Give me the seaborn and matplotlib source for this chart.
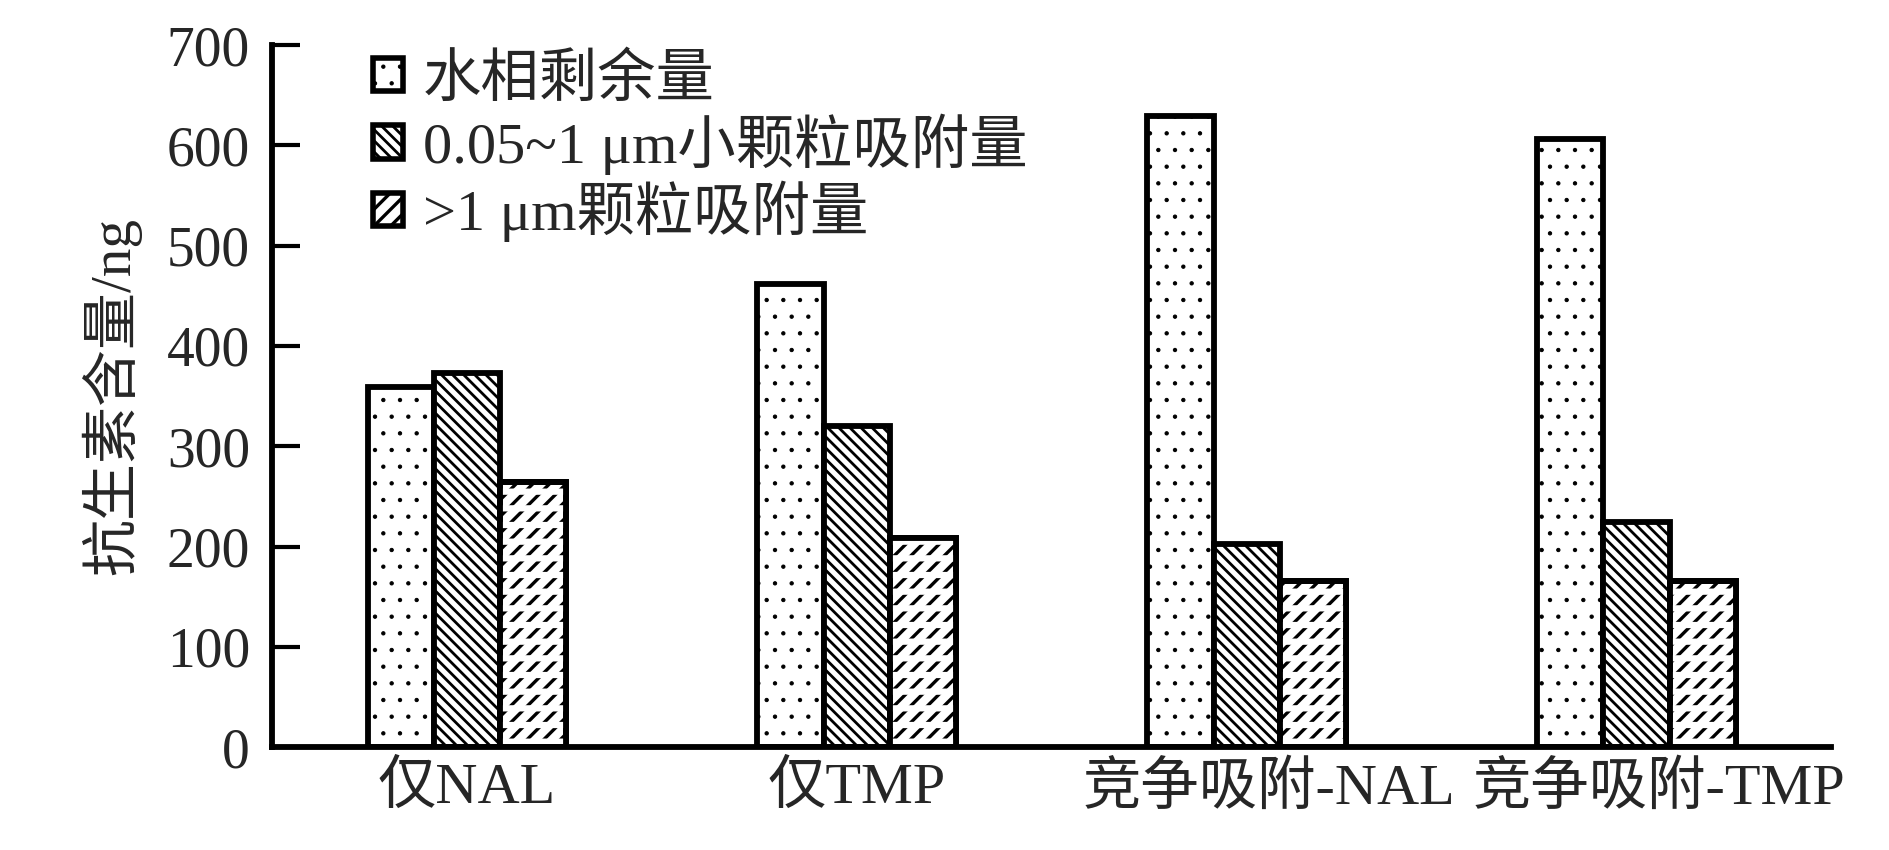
#!/usr/bin/env python3
import pandas as pd
import seaborn as sns
import matplotlib.pyplot as plt
import matplotlib.transforms as mtransforms
from matplotlib.patches import Rectangle

sns.set_theme(style="white")
plt.rcParams['font.family'] = ['Liberation Serif', 'Noto Sans CJK SC', 'DejaVu Sans']
plt.rcParams['hatch.linewidth'] = 1.5

categories = ["仅NAL", "仅TMP", "竞争吸附-NAL", "竞争吸附-TMP"]
series = ["水相剩余量", "0.05~1 μm小颗粒吸附量", ">1 μm颗粒吸附量"]
water_left = [359, 462, 629, 606]
small_part = [373, 320, 203, 224]
big_part = [264, 209, 166, 166]
yticks = [0, 100, 200, 300, 400, 500, 600, 700]

df = pd.DataFrame({
    "cat": categories * 3,
    "series": [series[0]] * 4 + [series[1]] * 4 + [series[2]] * 4,
    "value": water_left + small_part + big_part,
})

hatches = [".", "\\\\\\", "//"]
hatch_lw = [0.7, 2.0, 2.4]
EDGE = 4.2


def set_hlw(p, lw):
    try:
        p.set_hatch_linewidth(lw)
    except AttributeError:
        pass


fig, ax = plt.subplots(figsize=(18.9, 8.5), dpi=100)
fig.subplots_adjust(left=0.144, right=0.969, bottom=0.121, top=0.947)

sns.barplot(data=df, x="cat", y="value", hue="series", hue_order=series,
            order=categories, palette=["white"] * 3, width=0.51, gap=0,
            edgecolor="black", linewidth=EDGE, saturation=1, ax=ax, legend=True)

for cont, h, hl in zip(ax.containers, hatches, hatch_lw):
    for p in cont:
        p.set_hatch(h)
        set_hlw(p, hl)
        p.set_edgecolor("black")
        p.set_facecolor("white")
        p.set_linewidth(EDGE)

# break the slashes of the 3rd series into short strokes
for p in ax.containers[2]:
    r = Rectangle(p.get_xy(), p.get_width(), p.get_height(), fill=False,
                  hatch="-", edgecolor="white", linewidth=0, zorder=p.get_zorder() + 0.1)
    set_hlw(r, 4.5)
    ax.add_patch(r)
    q = Rectangle(p.get_xy(), p.get_width(), p.get_height(), fill=False,
                  edgecolor="black", linewidth=EDGE, zorder=p.get_zorder() + 0.2)
    ax.add_patch(q)

ax.set_xlim(-0.5, 3.5)
ax.set_ylim(0, 700)
ax.set_yticks(yticks)
ax.set_xlabel("")
ax.set_ylabel("抗生素含量/ng", fontsize=41, labelpad=18)

ax.set_xticks([0.5, 1.5, 2.5, 3.5], minor=True)
ax.tick_params(axis="x", which="major", length=0, labelsize=42, pad=10)
ax.tick_params(axis="x", which="minor", direction="in", length=20, width=3, color="black")
ax.tick_params(axis="y", direction="in", length=20, width=3, labelsize=40, pad=16, color="black", left=True)

# the two long labels sit a little right of their group in the original
for lab in ax.get_xticklabels()[2:]:
    lab.set_transform(lab.get_transform() +
                      mtransforms.ScaledTranslation(0.22, 0, fig.dpi_scale_trans))

for s in ["top", "right"]:
    ax.spines[s].set_visible(False)
for s in ["left", "bottom"]:
    ax.spines[s].set_linewidth(4.2)
    ax.spines[s].set_color("black")

leg = ax.legend(loc="upper left", bbox_to_anchor=(0.05, 1.022), frameon=False,
                fontsize=42, handlelength=0.5, handleheight=0.5,
                handletextpad=0.35, labelspacing=0.1, borderaxespad=0)
for hp, h, hl in zip(leg.get_patches(), hatches, hatch_lw):
    hp.set_hatch(h)
    set_hlw(hp, hl)
    hp.set_edgecolor("black")
    hp.set_linewidth(4)

fig.savefig("out.png", dpi=100)
